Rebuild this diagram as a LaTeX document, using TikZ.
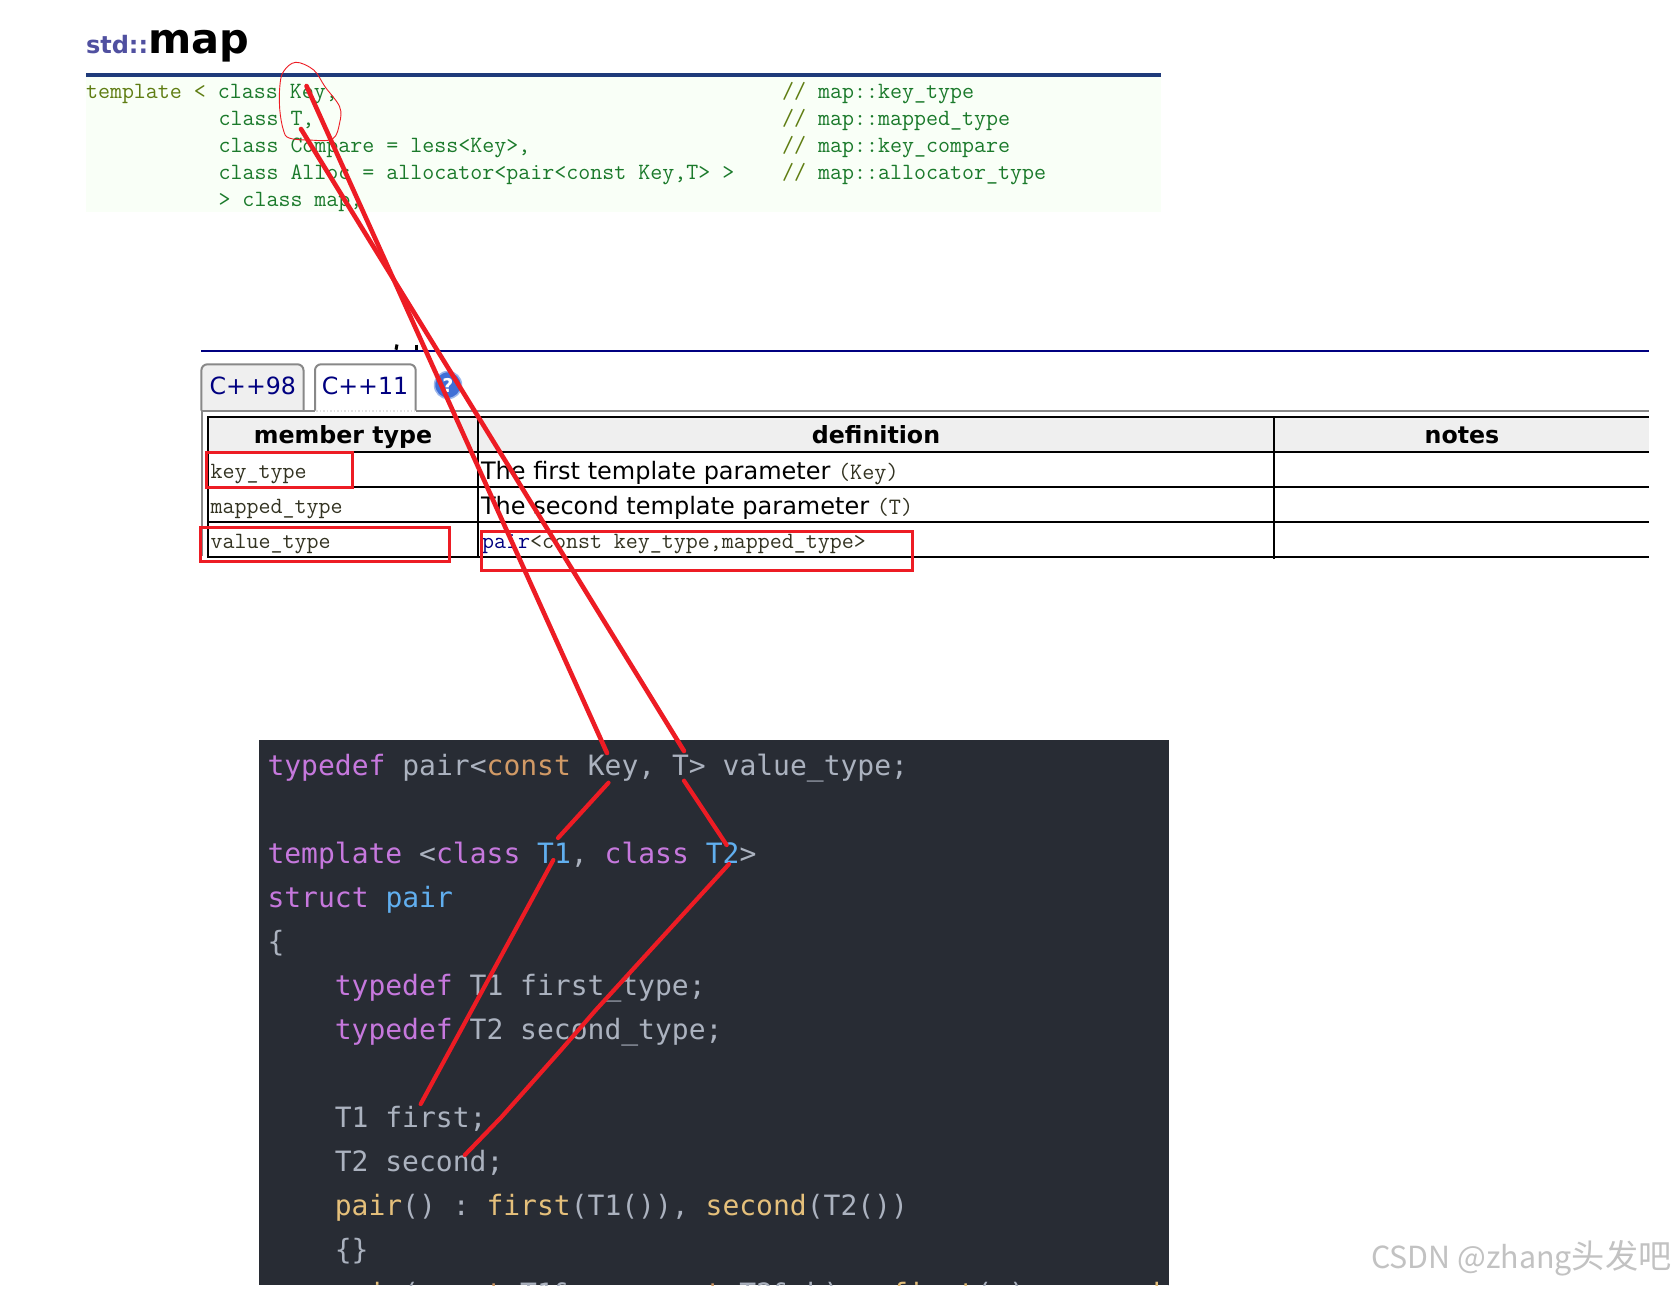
\documentclass[tikz,border=0pt]{standalone}
\usepackage{fontspec}
\newfontfamily\dejamono{DejaVu Sans Mono}
\newfontfamily\dejasans{DejaVu Sans}
\newfontfamily\cjksans{Noto Sans CJK SC}
\frenchspacing
\definecolor{cred}{HTML}{ED1C24}
\definecolor{cnavy}{HTML}{000080}
\definecolor{ctitle}{HTML}{1F3A7A}
\definecolor{cstd}{HTML}{5050A0}
\definecolor{cbg}{HTML}{F9FFF7}
\definecolor{ctab}{HTML}{888888}
\definecolor{chead}{HTML}{EFEFEF}
\definecolor{csim}{HTML}{1B7A2B}
\definecolor{colive}{HTML}{5F7D12}
\definecolor{cdark}{HTML}{282C34}
\definecolor{cgrey}{HTML}{ABB2BF}
\definecolor{ckw}{HTML}{C678DD}
\definecolor{corange}{HTML}{D19A66}
\definecolor{cblue}{HTML}{61AFEF}
\definecolor{cyel}{HTML}{E5C07B}
\definecolor{ccell}{HTML}{333322}
\definecolor{chelp}{HTML}{3F6FD6}
\definecolor{chelpring}{HTML}{9DB7EC}
\newcommand\kwd[1]{\textcolor{ckw}{#1}}
\newcommand\org[1]{\textcolor{corange}{#1}}
\newcommand\blu[1]{\textcolor{cblue}{#1}}
\newcommand\yel[1]{\textcolor{cyel}{#1}}
\newcommand\oli[1]{\textcolor{colive}{#1}}
\tikzset{
  txt/.style={inner sep=0pt,outer sep=0pt,anchor=base west},
  simt/.style={txt,font=\ttfamily\fontsize{23.3pt}{26pt}\selectfont,text=csim},
  cellt/.style={txt,font=\ttfamily\fontsize{23.3pt}{26pt}\selectfont,text=ccell},
  deft/.style={txt,font=\dejasans\fontsize{24pt}{28pt}\selectfont,text=black},
  headt/.style={inner sep=0pt,outer sep=0pt,anchor=base,font=\dejasans\bfseries\fontsize{23.7pt}{28pt}\selectfont,text=black},
  tabt/.style={txt,font=\dejasans\fontsize{23.7pt}{28pt}\selectfont,text=cnavy},
  codet/.style={txt,font=\dejamono\fontsize{28pt}{32pt}\selectfont,text=cgrey},
  grid/.style={draw=black,line width=2pt},
  tabline/.style={draw=ctab,line width=2pt},
  redbox/.style={draw=cred,line width=3pt},
  redthick/.style={draw=cred,line width=4.6pt,line cap=round,line join=round},
  redthin/.style={draw=cred,line width=4.2pt,line cap=round,line join=round},
}
\begin{document}
\begin{tikzpicture}[x=1pt,y=-1pt]
\useasboundingbox (0,0) rectangle (1677,1288);
\fill[white] (0,0) rectangle (1677,1288);

% title
\node[txt,font=\dejasans\bfseries\fontsize{24pt}{26pt}\selectfont,text=cstd] (std) at (86,53) {std::};
\node[txt,font=\dejasans\bfseries\fontsize{41.5pt}{44pt}\selectfont,text=black] (map) at (148,53) {map};
\fill[cbg] (86,77) rectangle (1161,212);
\fill[ctitle] (86,73) rectangle (1161,77);

% template declaration
\node[simt] (l1a) at (86,98) {\oli{template <} class Key,};
\node[simt] (l2a) at (218.5,125) {class T,};
\node[simt] (l3a) at (218.5,152) {class Compare = less<Key>,};
\node[simt] (l4a) at (218.5,179) {class Alloc = allocator<pair<const Key,T> >};
\node[simt] (l5a) at (218.5,206) {> class map;};
\node[simt] (l1b) at (782,98) {\oli{//} map::key\_type};
\node[simt] (l2b) at (782,125) {\oli{//} map::mapped\_type};
\node[simt] (l3b) at (782,152) {\oli{//} map::key\_compare};
\node[simt] (l4b) at (782,179) {\oli{//} map::allocator\_type};

% free-hand ring
\draw[cred,line width=0.9pt] plot[smooth cycle,tension=0.6] coordinates {
  (295.7,62.3) (283.4,71.7) (279.8,86.7) (279.8,110) (283.4,130) (289,138)
  (308.6,140) (332.4,139) (339.6,123) (339.6,106.7) (325,86.7) (313.7,70)};

% section rule
\fill[cnavy] (201.4,349.7) rectangle (1649,351.7);
\draw[black,line width=3pt] (397,344.5) -- (396,349.7);
\draw[black,line width=3pt] (416,344.5) -- (416,349.7);

% tabs
\filldraw[tabline,fill=chead,rounded corners=6pt] (201.4,410.7) -- (201.4,364.3) -- (303.5,364.3) -- (303.5,410.7);
\filldraw[tabline,fill=white,rounded corners=6pt] (315,410.7) -- (315,364.3) -- (415.7,364.3) -- (415.7,410.7);
\draw[tabline] (201.4,410.7) -- (315,410.7);
\draw[tabline] (415.7,410.7) -- (1649,410.7);
\draw[draw=black!12,line width=1.5pt,dotted] (316,411) -- (415,411);
\draw[draw=ctab,line width=1.5pt] (202,410.7) -- (202,556);
\node[tabt] (t98) at (209.6,394) {C++98};
\node[tabt] (t11) at (321.8,394) {C++11};
\node[circle,fill=chelp,draw=chelpring,line width=1.5pt,minimum size=27pt,inner sep=0pt,
      font=\dejasans\bfseries\fontsize{19pt}{20pt}\selectfont,text=white] (help) at (448,385) {?};

% table
\fill[chead] (208,417) rectangle (1649,452);
\draw[grid] (207,417) -- (1649,417);
\draw[grid] (207,452) -- (1649,452);
\draw[grid] (207,486.7) -- (1649,486.7);
\draw[grid] (207,522) -- (1649,522);
\draw[grid] (207,557) -- (1649,557);
\draw[grid] (208,416) -- (208,558);
\draw[grid] (477.5,416) -- (477.5,558);
\draw[grid] (1274,416) -- (1274,559);
\node[headt] (h1) at (343,443) {member type};
\node[headt] (h2) at (876,443) {definition};
\node[headt] (h3) at (1462,443) {notes};
\node[cellt] (c11) at (210.6,478) {key\_type};
\node[cellt] (c21) at (210.6,513) {mapped\_type};
\node[cellt] (c31) at (210.6,548) {value\_type};
\node[deft] (c12) at (481,479) {The first template parameter {\ttfamily\fontsize{23.5pt}{26pt}\selectfont\color{ccell}(Key)}};
\node[deft] (c22) at (481,514) {The second template parameter {\ttfamily\fontsize{23.5pt}{26pt}\selectfont\color{ccell}(T)}};
\node[cellt] (c32) at (482,548) {\textcolor{cnavy}{pair}<const key\_type,mapped\_type>};

\draw[redbox] (206.5,452.7) rectangle (352,487);
\draw[redbox] (200.4,527) rectangle (449.4,561.7);
\draw[redbox] (481,531) rectangle (912.6,570.5);

% code block
\fill[cdark] (258.8,740) rectangle (1168.5,1285);
\begin{scope}
\clip (258.8,740) rectangle (1168.5,1285);
\node[codet] (k1) at (267.5,775) {\kwd{typedef} pair<\org{const} Key, T> value\_type;};
\node[codet] (k3) at (267.5,863) {\kwd{template} <\kwd{class} \blu{T1}, \kwd{class} \blu{T2}>};
\node[codet] (k4) at (267.5,907) {\kwd{struct} \blu{pair}};
\node[codet] (k5) at (267.5,951) {\{};
\node[codet] (k6) at (334.8,995) {\kwd{typedef} T1 first\_type;};
\node[codet] (k7) at (334.8,1039) {\kwd{typedef} T2 second\_type;};
\node[codet] (k9) at (334.8,1127) {T1 first;};
\node[codet] (k10) at (334.8,1171) {T2 second;};
\node[codet] (k11) at (334.8,1215) {\yel{pair}() : \yel{first}(T1()), \yel{second}(T2())};
\node[codet] (k12) at (334.8,1259) {\{\}};
\node[codet] (k13) at (334.8,1303) {\yel{pair}(\org{const} T1\& a, \org{const} T2\& b) : \yel{first}(a), \yel{second}(b)};
\end{scope}

% watermark
\node[txt,font=\cjksans\fontsize{30.4pt}{38pt}\selectfont,text=black!24] (wm) at (1371,1268) {CSDN @zhang{\fontsize{33.2pt}{38pt}\selectfont 头发吧}};

% red strokes
\coordinate (keyTop) at (306.5,86);
\coordinate (tTop) at (301,129);
\coordinate (keyMid) at (607,753);
\coordinate (tMid) at (684,751);
\draw[redthick] (keyTop) -- (keyMid);
\draw[redthick] (tTop) -- (tMid);
\coordinate (keyLow) at (608.5,782.7);
\coordinate (t1Up) at (558,838);
\coordinate (tLow) at (684,780.7);
\coordinate (t2Up) at (726.7,845);
\draw[redthin] (keyLow) -- (t1Up);
\draw[redthin] (tLow) -- (t2Up);
\coordinate (t1Low) at (553.3,860);
\coordinate (firstEnd) at (420.7,1104);
\coordinate (t2Low) at (729,864);
\coordinate (secondEnd) at (464.8,1155);
\draw[redthin] (t1Low) -- (firstEnd);
\draw[redthin] (t2Low) -- (595.8,1010) -- (561,1050) -- (501.5,1117) -- (secondEnd);
\end{tikzpicture}
\end{document}
